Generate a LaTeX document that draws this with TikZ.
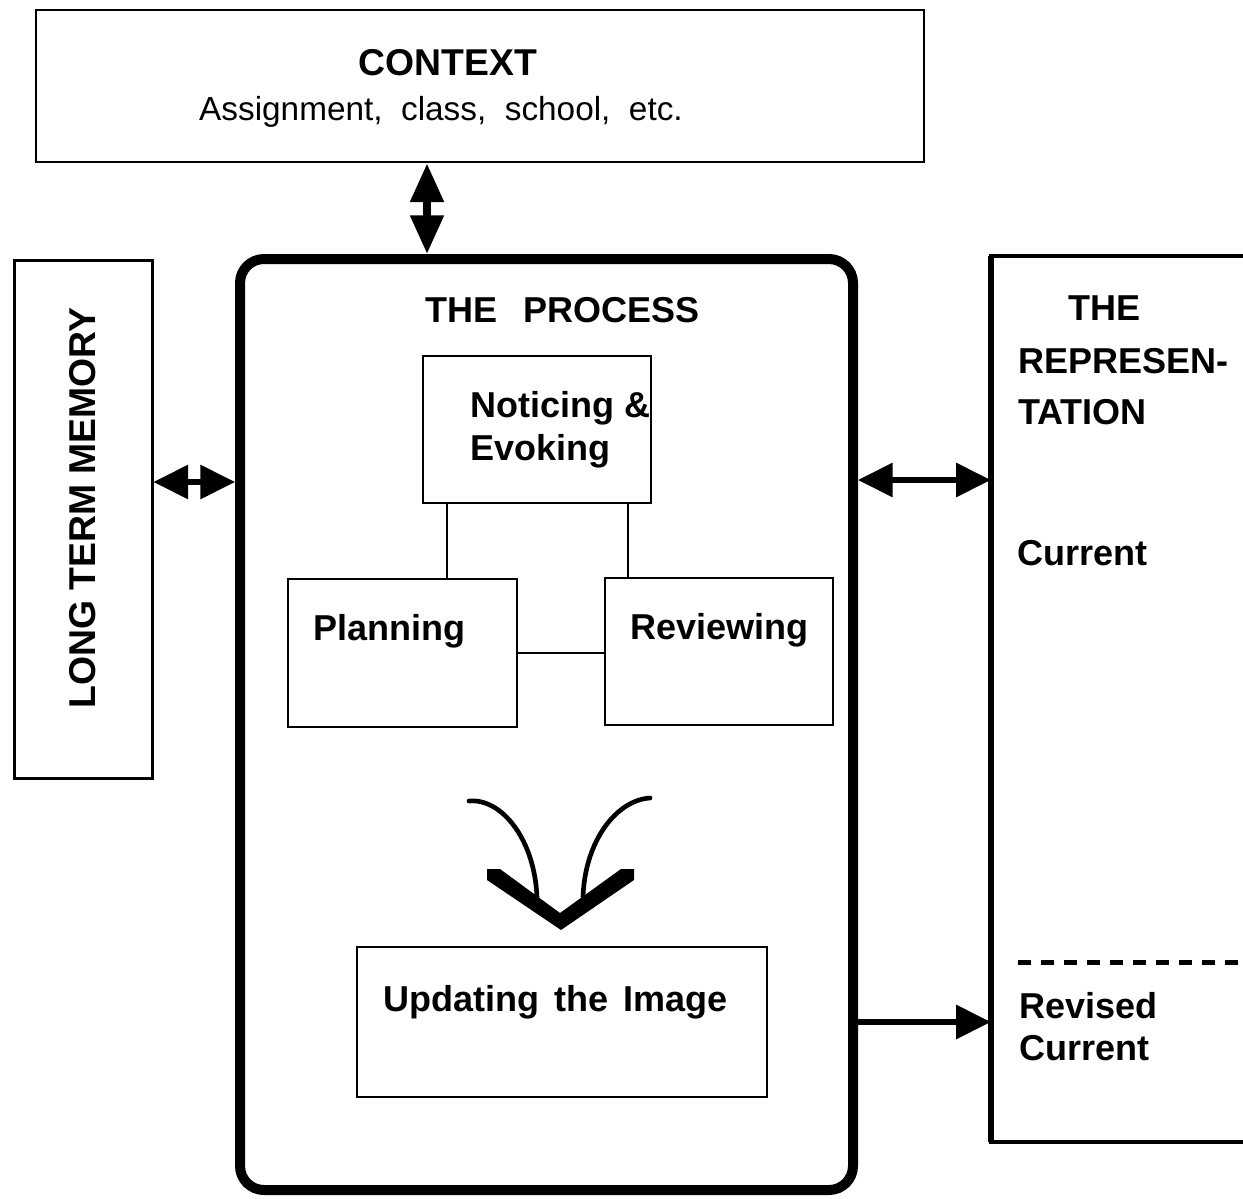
\documentclass[tikz,border=0pt]{standalone}
\usepackage{fontspec}
\setmainfont{Liberation Sans}
\usetikzlibrary{arrows.meta}

\begin{document}
\begin{tikzpicture}[x=0.75pt,y=0.75pt,yscale=-1,xscale=1,
  box/.style={draw, line width=1.5pt, inner sep=0pt},
  bold/.style={font=\fontsize{27}{32}\selectfont\bfseries, inner sep=0pt},
  plain/.style={font=\fontsize{25}{30}\selectfont, inner sep=0pt},
  bighead/.tip={Triangle[length=29pt, width=24pt]},
  head/.tip={Triangle[length=26pt, width=25pt]}]
\path[use as bounding box] (0,0) rectangle (1243,1199);

%Shape: Rectangle [context]
\node[box, line width=2pt, minimum width=666pt, minimum height=114pt] (context) at (480,86) {};
% Text Node
\node[bold, font=\fontsize{28}{32}\selectfont\bfseries, anchor=base] (context-t) at (448,75) {CONTEXT};
% Text Node
\node[plain, anchor=base] (context-s) at (441,120) {Assignment,\ \ class,\ \ school,\ \ etc.};

%Shape: Rounded Rect [process]
\node[draw, line width=7.5pt, rounded corners=18pt, minimum width=459.75pt, minimum height=698.25pt] (proc) at (546.5,724.5) {};
% Text Node
\node[bold, anchor=base west] (proc-t) at (425,322) {THE\ \ \,PROCESS};

%Shape: Rectangle [memory]
\node[box, line width=2.25pt, minimum width=103.5pt, minimum height=388.5pt] (ltm) at (83,519) {};
% Text Node
\node[bold, font=\fontsize{28}{32}\selectfont\bfseries, rotate=90] (ltm-t) at (83,508) {LONG TERM MEMORY};

%Shape: Rectangle [representation]
\node[inner sep=0pt, minimum width=189pt, minimum height=664.5pt] (rep) at (1117,699) {};
\draw[line width=3pt] (rep.north east) -- (rep.north west) -- (rep.south west) -- (rep.south east);
\draw[line width=4.5pt] (rep.north west) -- (rep.south west);
% Text Node
\node[bold, anchor=base west] (rep-t1) at (1068,320) {THE};
\node[bold, anchor=base west] (rep-t2) at (1018,373) {REPRESEN-};
\node[bold, anchor=base west] (rep-t3) at (1018,424) {TATION};
\node[bold, anchor=base west] (cur) at (1017,565) {Current};
%Straight Lines [divider]
\draw[line width=3.75pt, dash pattern=on 9.75pt off 7.5pt] (1018,962) -- (rep.east |- 0,962);
% Text Node
\node[bold, anchor=base west] (rev-1) at (1019,1018) {Revised};
\node[bold, anchor=base west] (rev-2) at (1019,1060) {Current};

%Shape: Rectangle [noticing]
\node[box, minimum width=171pt, minimum height=110.25pt] (notice) at (537,429.5) {};
\node[bold, anchor=base west] (notice-1) at (470,417) {Noticing \&};
\node[bold, anchor=base west] (notice-2) at (470,460) {Evoking};
%Shape: Rectangle [planning]
\node[box, minimum width=171.75pt, minimum height=111pt] (plan) at (402.5,653) {};
\node[bold, anchor=base west] (plan-t) at (313,640) {Planning};
%Shape: Rectangle [reviewing]
\node[box, minimum width=171pt, minimum height=110.25pt] (review) at (719,651.5) {};
\node[bold, anchor=base west] (review-t) at (630,639) {Reviewing};
%Shape: Rectangle [updating]
\node[box, minimum width=307.5pt, minimum height=112.5pt] (update) at (562,1022) {};
\node[bold, anchor=base west] (update-t) at (383,1011) {Updating\hspace{4pt} the\hspace{4pt} Image};

%Straight Lines
\draw[line width=1.5pt] (notice.south -| 447,0) -- (plan.north -| 447,0);
\draw[line width=1.5pt] (notice.south -| 628,0) -- (review.north -| 628,0);
\draw[line width=1.5pt] (plan.east) -- (plan.east -| review.west);

%Shape: Funnel
\fill (487,869) -- (500,869) -- (560,913) -- (621,869) -- (634,869) -- (634,880) -- (561,930) -- (487,880) -- cycle;
%Curve Lines
\draw[line width=3.5pt, line cap=round] (469,801) .. controls (502,798) and (535,840) .. (537,898);
\draw[line width=3.5pt, line cap=round] (650,798) .. controls (617,800) and (585,840) .. (583,897);

%Straight Lines [arrows]
\draw[line width=6pt, {bighead}-{bighead}] (context.south -| 427,0) -- (proc.north -| 427,0);
\draw[line width=4pt, {head}-{head}] (ltm.east |- 0,482) -- (proc.west |- 0,482);
\draw[line width=4pt, {head}-{head}] (proc.east |- 0,480) -- (rep.west |- 0,480);
\draw[line width=4pt, -{head}] (proc.east |- 0,1022) -- (rep.west |- 0,1022);

\end{tikzpicture}
\end{document}
